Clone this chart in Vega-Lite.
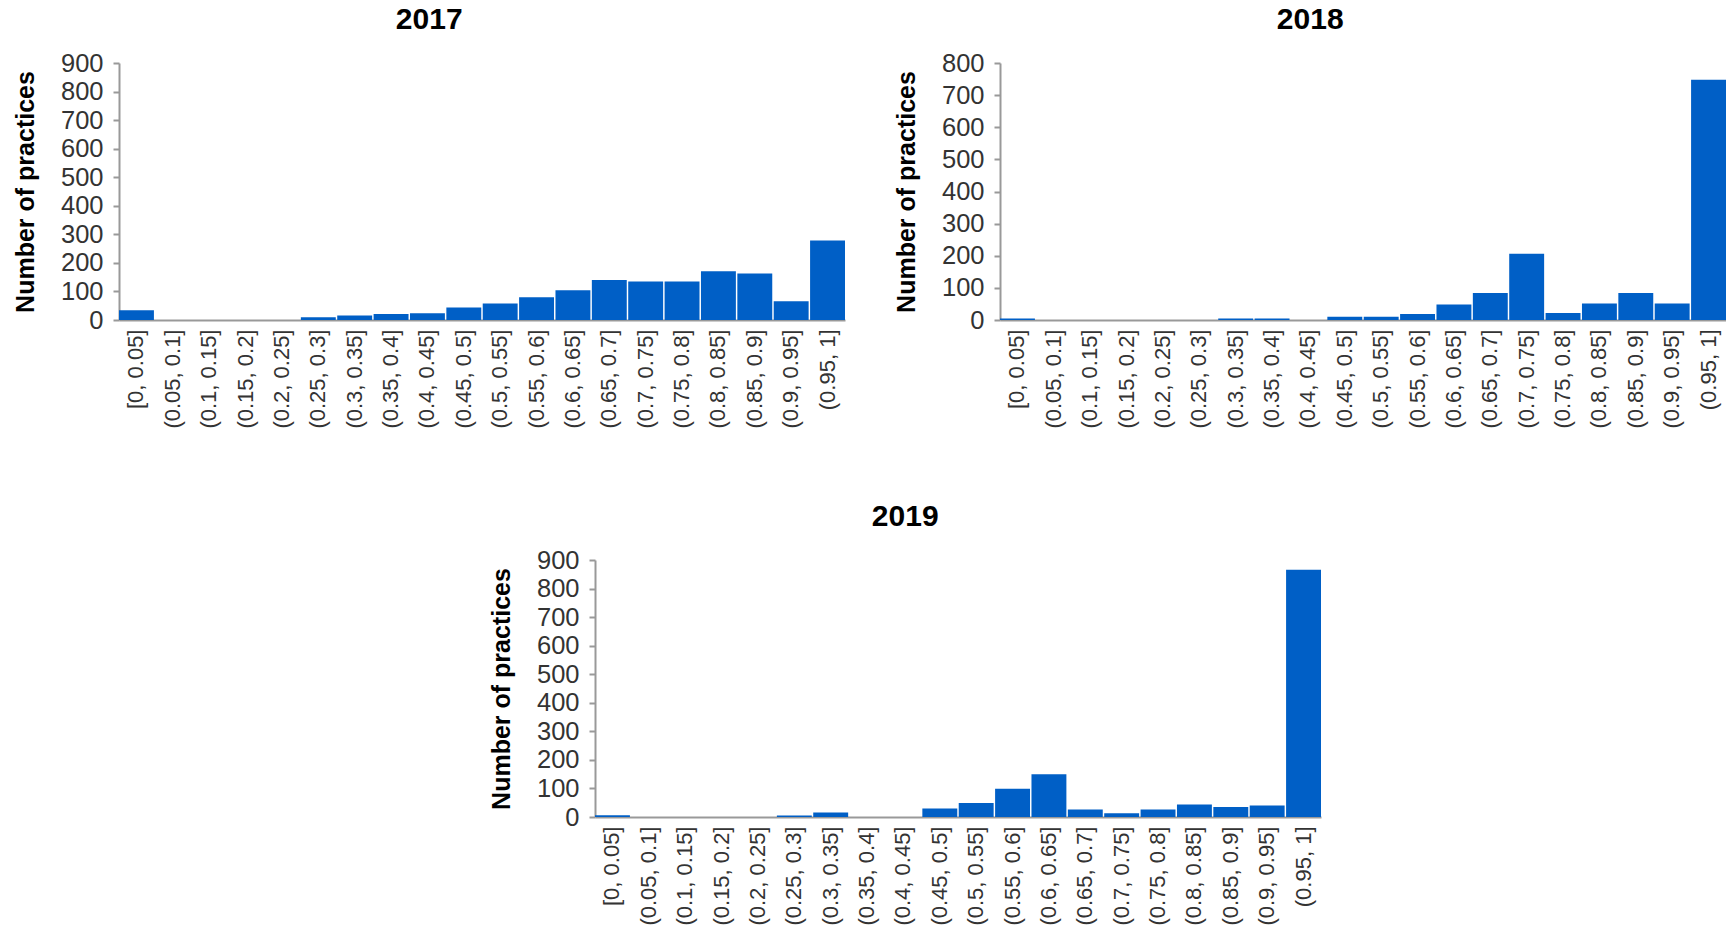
{
  "$schema": "https://vega.github.io/schema/vega-lite/v6.json",
  "padding": {"left": 13, "top": 5, "right": 0, "bottom": 0},
  "background": "white",
  "datasets": {
    "hist": [
      {"year": 2017, "bin": "[0, 0.05]", "count": 34},
      {"year": 2017, "bin": "(0.05, 0.1]", "count": 0},
      {"year": 2017, "bin": "(0.1, 0.15]", "count": 0},
      {"year": 2017, "bin": "(0.15, 0.2]", "count": 0},
      {"year": 2017, "bin": "(0.2, 0.25]", "count": 0},
      {"year": 2017, "bin": "(0.25, 0.3]", "count": 10},
      {"year": 2017, "bin": "(0.3, 0.35]", "count": 16},
      {"year": 2017, "bin": "(0.35, 0.4]", "count": 21},
      {"year": 2017, "bin": "(0.4, 0.45]", "count": 24},
      {"year": 2017, "bin": "(0.45, 0.5]", "count": 44},
      {"year": 2017, "bin": "(0.5, 0.55]", "count": 58},
      {"year": 2017, "bin": "(0.55, 0.6]", "count": 80},
      {"year": 2017, "bin": "(0.6, 0.65]", "count": 104},
      {"year": 2017, "bin": "(0.65, 0.7]", "count": 140},
      {"year": 2017, "bin": "(0.7, 0.75]", "count": 135},
      {"year": 2017, "bin": "(0.75, 0.8]", "count": 135},
      {"year": 2017, "bin": "(0.8, 0.85]", "count": 171},
      {"year": 2017, "bin": "(0.85, 0.9]", "count": 163},
      {"year": 2017, "bin": "(0.9, 0.95]", "count": 66},
      {"year": 2017, "bin": "(0.95, 1]", "count": 278},
      {"year": 2018, "bin": "[0, 0.05]", "count": 5},
      {"year": 2018, "bin": "(0.05, 0.1]", "count": 0},
      {"year": 2018, "bin": "(0.1, 0.15]", "count": 0},
      {"year": 2018, "bin": "(0.15, 0.2]", "count": 0},
      {"year": 2018, "bin": "(0.2, 0.25]", "count": 0},
      {"year": 2018, "bin": "(0.25, 0.3]", "count": 0},
      {"year": 2018, "bin": "(0.3, 0.35]", "count": 5},
      {"year": 2018, "bin": "(0.35, 0.4]", "count": 5},
      {"year": 2018, "bin": "(0.4, 0.45]", "count": 0},
      {"year": 2018, "bin": "(0.45, 0.5]", "count": 10},
      {"year": 2018, "bin": "(0.5, 0.55]", "count": 10},
      {"year": 2018, "bin": "(0.55, 0.6]", "count": 19},
      {"year": 2018, "bin": "(0.6, 0.65]", "count": 48},
      {"year": 2018, "bin": "(0.65, 0.7]", "count": 84},
      {"year": 2018, "bin": "(0.7, 0.75]", "count": 206},
      {"year": 2018, "bin": "(0.75, 0.8]", "count": 22},
      {"year": 2018, "bin": "(0.8, 0.85]", "count": 51},
      {"year": 2018, "bin": "(0.85, 0.9]", "count": 84},
      {"year": 2018, "bin": "(0.9, 0.95]", "count": 51},
      {"year": 2018, "bin": "(0.95, 1]", "count": 748},
      {"year": 2019, "bin": "[0, 0.05]", "count": 6},
      {"year": 2019, "bin": "(0.05, 0.1]", "count": 0},
      {"year": 2019, "bin": "(0.1, 0.15]", "count": 0},
      {"year": 2019, "bin": "(0.15, 0.2]", "count": 0},
      {"year": 2019, "bin": "(0.2, 0.25]", "count": 0},
      {"year": 2019, "bin": "(0.25, 0.3]", "count": 5},
      {"year": 2019, "bin": "(0.3, 0.35]", "count": 16},
      {"year": 2019, "bin": "(0.35, 0.4]", "count": 0},
      {"year": 2019, "bin": "(0.4, 0.45]", "count": 0},
      {"year": 2019, "bin": "(0.45, 0.5]", "count": 30},
      {"year": 2019, "bin": "(0.5, 0.55]", "count": 49},
      {"year": 2019, "bin": "(0.55, 0.6]", "count": 99},
      {"year": 2019, "bin": "(0.6, 0.65]", "count": 150},
      {"year": 2019, "bin": "(0.65, 0.7]", "count": 26},
      {"year": 2019, "bin": "(0.7, 0.75]", "count": 13},
      {"year": 2019, "bin": "(0.75, 0.8]", "count": 26},
      {"year": 2019, "bin": "(0.8, 0.85]", "count": 44},
      {"year": 2019, "bin": "(0.85, 0.9]", "count": 35},
      {"year": 2019, "bin": "(0.9, 0.95]", "count": 40},
      {"year": 2019, "bin": "(0.95, 1]", "count": 866}
    ],
    "blank": [{"t": ""}]
  },
  "config": {
    "font": "Liberation Sans",
    "view": {"stroke": null},
    "title": {"fontSize": 30, "fontWeight": "bold", "color": "#000", "font": "Liberation Sans", "offset": 16, "anchor": "middle", "frame": "bounds"},
    "axisY": {
      "labelFontSize": 25.5, "labelColor": "#333", "labelFont": "Liberation Sans",
      "domainColor": "#999", "domainWidth": 2, "tickColor": "#999", "tickWidth": 2, "tickSize": 6,
      "labelPadding": 10, "grid": false,
      "titleFontSize": 25, "titleFontWeight": "bold", "titleColor": "#000", "titlePadding": 22, "titleFont": "Liberation Sans"
    },
    "axisX": {
      "labelFontSize": 22, "labelColor": "#333", "labelFont": "Liberation Sans", "labelAngle": -90,
      "domainColor": "#999", "domainWidth": 2, "ticks": false, "labelPadding": 9, "title": null, "grid": false
    },
    "bar": {"color": "#005FC6"},
    "scale": {"bandPaddingInner": 0.04, "bandPaddingOuter": 0}
  },
  "vconcat": [
    {
      "hconcat": [
        {
          "title": "2017",
          "width": 726, "height": 257,
          "data": {"name": "hist"},
          "transform": [{"filter": "datum.year == 2017"}],
          "mark": "bar",
          "encoding": {
            "x": {"field": "bin", "type": "nominal", "sort": null, "title": null},
            "y": {"field": "count", "type": "quantitative", "title": "Number of practices",
                  "scale": {"domain": [0, 900]}, "axis": {"values": [0, 100, 200, 300, 400, 500, 600, 700, 800, 900]}}
          }
        },
        {
          "title": "2018",
          "width": 726, "height": 257,
          "data": {"name": "hist"},
          "transform": [{"filter": "datum.year == 2018"}],
          "mark": "bar",
          "encoding": {
            "x": {"field": "bin", "type": "nominal", "sort": null, "title": null},
            "y": {"field": "count", "type": "quantitative", "title": "Number of practices",
                  "scale": {"domain": [0, 800]}, "axis": {"values": [0, 100, 200, 300, 400, 500, 600, 700, 800]}}
          }
        }
      ],
      "spacing": 49
    },
    {
      "hconcat": [
        {
          "width": 350, "height": 10,
          "data": {"name": "blank"},
          "mark": {"type": "text", "opacity": 0},
          "encoding": {"text": {"field": "t"}}
        },
        {
          "title": "2019",
          "width": 726, "height": 257,
          "data": {"name": "hist"},
          "transform": [{"filter": "datum.year == 2019"}],
          "mark": "bar",
          "encoding": {
            "x": {"field": "bin", "type": "nominal", "sort": null, "title": null},
            "y": {"field": "count", "type": "quantitative", "title": "Number of practices",
                  "scale": {"domain": [0, 900]}, "axis": {"values": [0, 100, 200, 300, 400, 500, 600, 700, 800, 900]}}
          }
        }
      ],
      "spacing": 20
    }
  ],
  "spacing": 73
}
